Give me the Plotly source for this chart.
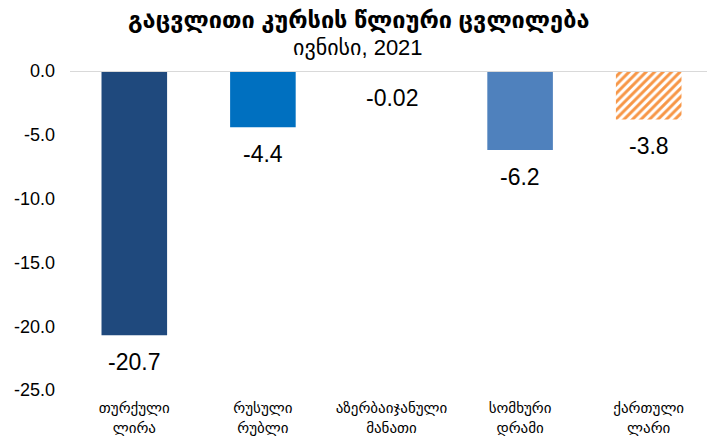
import plotly.graph_objects as go

categories = ["თურქული<br>ლირა", "რუსული<br>რუბლი", "აზერბაიჯანული<br>მანათი", "სომხური<br>დრამი", "ქართული<br>ლარი"]
values = [-20.7, -4.4, -0.02, -6.2, -3.8]
value_labels = ["-20.7", "-4.4", "-0.02", "-6.2", "-3.8"]
tick_values = [0, -5, -10, -15, -20, -25]
tick_labels = ["0.0", "-5.0", "-10.0", "-15.0", "-20.0", "-25.0"]
title_text = "გაცვლითი კურსის წლიური ცვლილება"
subtitle_text = "ივნისი, 2021"

colors = ["#1F497D", "#0070C0", "#0070C0", "#4F81BD", "#F79646"]
patterns = ["", "", "", "", "/"]

FONT = "Arial, Liberation Sans, DejaVu Sans, sans-serif"

fig = go.Figure()
fig.add_trace(go.Bar(
    x=categories, y=values,
    marker=dict(color=colors, line=dict(width=0),
                pattern=dict(shape=patterns, size=6, solidity=0.5, fillmode="replace")),
    hoverinfo="skip",
))

for c, v, t in zip(categories, values, value_labels):
    fig.add_annotation(x=c, y=v, text=t, showarrow=False, yanchor="top", yshift=-12,
                       font=dict(size=23, color="#000000", family=FONT))

fig.add_annotation(xref="paper", yref="paper", x=0.448, y=1.16, text="<b>" + title_text + "</b>",
                   showarrow=False, xanchor="center", yanchor="middle",
                   font=dict(size=23.5, family=FONT, color="#000000"))
fig.add_annotation(xref="paper", yref="paper", x=0.448, y=1.075, text=subtitle_text,
                   showarrow=False, xanchor="center", yanchor="middle",
                   font=dict(size=22, family=FONT, color="#000000"))

# zero gridline drawn above the bars (hides the near-zero bar as in the reference)
fig.add_shape(type="line", xref="paper", yref="y", x0=0, x1=1, y0=0, y1=0,
              line=dict(color="#D9D9D9", width=2), layer="above")

fig.update_layout(
    width=707, height=433,
    margin=dict(l=62, r=2, t=63, b=51),
    paper_bgcolor="white", plot_bgcolor="white",
    bargap=0.49,
    showlegend=False,
    font=dict(family=FONT, color="#000000"),
    xaxis=dict(showgrid=False, showline=False, ticks="", ticklabelstandoff=7,
               tickfont=dict(size=15, family=FONT, color="#000000")),
    yaxis=dict(range=[-25, 0], tickvals=tick_values, ticktext=tick_labels, showgrid=False,
               zeroline=False, showline=False,
               ticklabelstandoff=14,
               tickfont=dict(size=18, family=FONT, color="#000000")),
)

fig.write_html("out.html")
